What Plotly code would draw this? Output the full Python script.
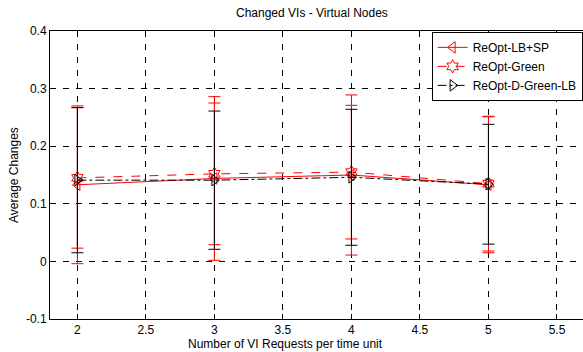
import plotly.graph_objects as go

x_vals = [2, 3, 4, 5]

lbsp_mean = [0.133, 0.144, 0.150, 0.133]
lbsp_err = [0.137, 0.142, 0.139, 0.118]

green_mean = [0.145, 0.152, 0.155, 0.135]
green_err = [0.122, 0.123, 0.116, 0.117]

dgl_mean = [0.141, 0.141, 0.146, 0.134]
dgl_err = [0.126, 0.120, 0.118, 0.104]

x_ticks = [2, 2.5, 3, 3.5, 4, 4.5, 5, 5.5]
y_ticks = [-0.1, 0, 0.1, 0.2, 0.3, 0.4]

FONT = "Liberation Sans, Arial, Helvetica, sans-serif"

fig = go.Figure()

series = [
    ("ReOpt-LB+SP", lbsp_mean, lbsp_err, "#ff0000", "solid", "triangle-left-open"),
    ("ReOpt-Green", green_mean, green_err, "#ff0000", "dash", "hexagram-open"),
    ("ReOpt-D-Green-LB", dgl_mean, dgl_err, "#000000", "dashdot", "triangle-right-open"),
]

for name, m, e, c, dash, sym in series:
    fig.add_trace(go.Scatter(
        x=x_vals, y=m, name=name, mode="lines+markers",
        line=dict(color=c, width=1, dash=dash),
        marker=dict(symbol=sym, size=10, color=c, line=dict(color=c, width=1)),
        error_y=dict(type="data", array=e, visible=True, color=c, thickness=1, width=6),
    ))

grid = dict(showgrid=True, gridcolor="#000000", gridwidth=0.6, griddash="6px,7px")

fig.update_layout(
    width=583, height=352,
    margin=dict(l=50, r=0, t=31, b=33),
    paper_bgcolor="white", plot_bgcolor="white",
    font=dict(family=FONT, size=12, color="black"),
    showlegend=True,
    legend=dict(
        x=0.716, y=0.997, xanchor="left", yanchor="top",
        bgcolor="white", bordercolor="black", borderwidth=1,
        font=dict(family=FONT, size=12, color="black"),
        tracegroupgap=0, itemwidth=30,
    ),
    xaxis=dict(
        range=[1.8, 5.69], tickmode="array", tickvals=x_ticks,
        ticktext=[str(v) for v in x_ticks],
        ticks="inside", ticklen=5, tickcolor="black",
        showline=True, linecolor="black", linewidth=1, mirror="ticks",
        zeroline=False, tickfont=dict(size=12), **grid,
    ),
    yaxis=dict(
        range=[-0.1, 0.4], tickmode="array", tickvals=y_ticks,
        ticktext=["-0.1", "0", "0.1", "0.2", "0.3", "0.4"],
        ticks="inside", ticklen=5, tickcolor="black",
        showline=True, linecolor="black", linewidth=1, mirror=False,
        zeroline=False, tickfont=dict(size=12), **grid,
    ),
    annotations=[
        dict(text="Changed VIs - Virtual Nodes", xref="paper", yref="paper",
             x=(312 - 50) / 533, y=1, yshift=18, showarrow=False,
             xanchor="center", yanchor="middle", font=dict(size=12)),
        dict(text="Number of VI Requests per time unit", xref="paper", yref="paper",
             x=(285 - 50) / 533, y=0, yshift=-25, showarrow=False,
             xanchor="center", yanchor="middle", font=dict(size=12)),
        dict(text="Average Changes", xref="paper", yref="paper",
             x=0, xshift=-36, y=0.5, showarrow=False, textangle=-90,
             xanchor="center", yanchor="middle", font=dict(size=12)),
    ],
)

fig.write_html("out.html")
